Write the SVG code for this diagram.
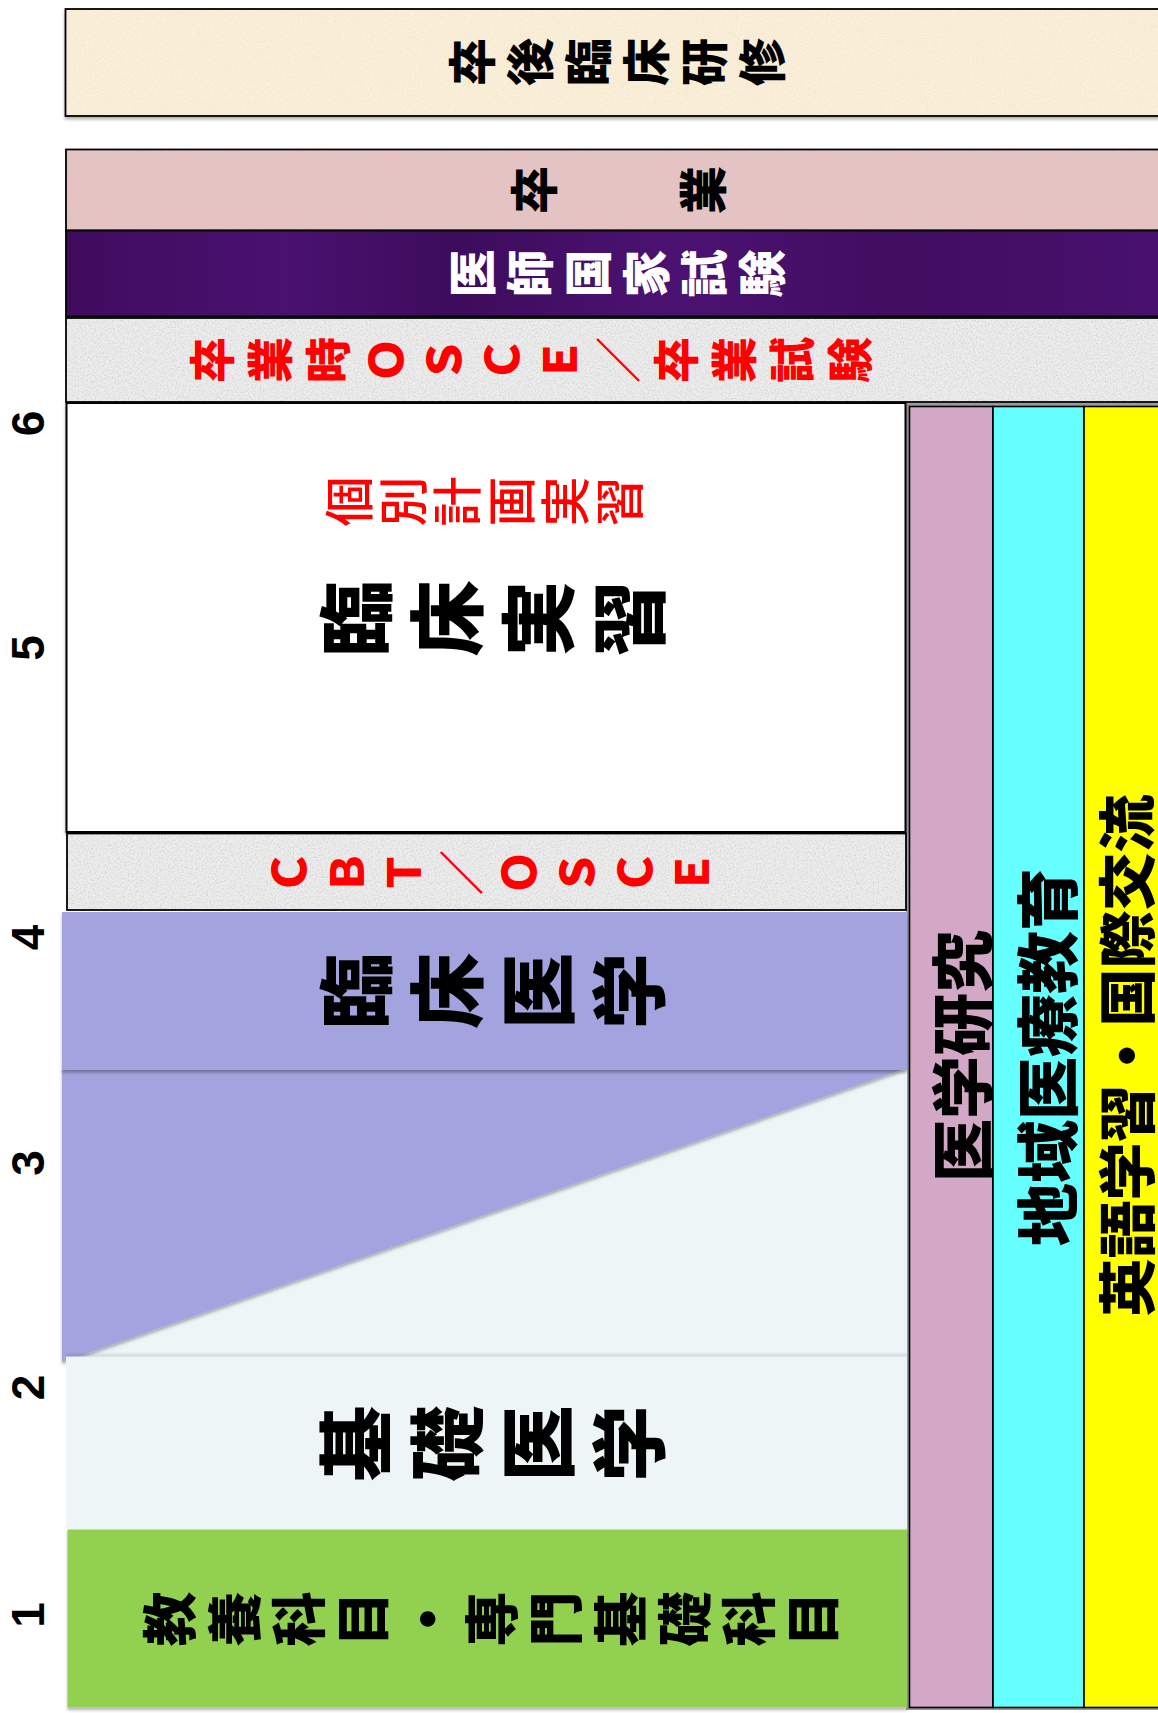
<svg xmlns="http://www.w3.org/2000/svg" width="1158" height="1713" viewBox="0 0 1158 1713">
<style>
.cj{font-family:"Noto Sans CJK JP","Noto Sans CJK SC",sans-serif;}
.v{writing-mode:vertical-rl;text-anchor:middle;}
.h{text-anchor:middle;dominant-baseline:central;}
.hv{font-weight:900;}
.num{font-family:"Liberation Sans",Arial,sans-serif;font-weight:bold;font-size:46px;text-anchor:middle;dominant-baseline:central;fill:#000;}
.bx{stroke:#000;stroke-width:1.8;}
.col{stroke:#000;stroke-width:1.6;}
.tex{fill:#000;filter:url(#grain);}
</style>
<defs>
<filter id="ds" x="-5%" y="-5%" width="110%" height="120%">
<feDropShadow dx="0" dy="2.5" stdDeviation="1.6" flood-color="#000" flood-opacity="0.3"/>
</filter>
<filter id="grain" x="0" y="0" width="100%" height="100%">
<feTurbulence type="fractalNoise" baseFrequency="0.6" numOctaves="3" seed="5" result="n"/>
<feColorMatrix in="n" type="matrix" values="0 0 0 0 0.55  0 0 0 0 0.55  0 0 0 0 0.55  0 0 0 1.6 -0.66" result="a"/>
<feComposite in="a" in2="SourceGraphic" operator="in"/>
</filter>
<linearGradient id="pur" x1="0" y1="0" x2="1" y2="0">
<stop offset="0" stop-color="#3f0c5e"/>
<stop offset="0.2" stop-color="#4a1170"/>
<stop offset="0.35" stop-color="#3d0c5c"/>
<stop offset="0.55" stop-color="#4c1272"/>
<stop offset="0.75" stop-color="#400d60"/>
<stop offset="1" stop-color="#4a1170"/>
</linearGradient>
<linearGradient id="sh" x1="0" y1="0" x2="0" y2="1">
<stop offset="0" stop-color="#000" stop-opacity="0"/>
<stop offset="1" stop-color="#000" stop-opacity="0.14"/>
</linearGradient>
</defs>

<g id="years">
<text class="num" transform="translate(27.5,423.5) rotate(-90)">6</text>
<text class="num" transform="translate(27.5,648) rotate(-90)">5</text>
<text class="num" transform="translate(27.5,937.5) rotate(-90)">4</text>
<text class="num" transform="translate(27.5,1163) rotate(-90)">3</text>
<text class="num" transform="translate(27.5,1387.5) rotate(-90)">2</text>
<text class="num" transform="translate(27.5,1615) rotate(-90)">1</text>
</g>

<g id="postgrad">
<rect x="65.5" y="9" width="1110" height="107" fill="#FBEFD7" class="bx" filter="url(#ds)"/>
<rect x="66.5" y="10" width="1108" height="105" class="tex" opacity="0.3"/>
<text class="cj v hv" font-size="48" letter-spacing="10" fill="#000" transform="translate(621.5,62) rotate(-90)">卒後臨床研修</text>
</g>

<g id="graduation">
<rect x="66" y="149.5" width="1110" height="81" fill="#E8C3C3" class="bx"/>
<rect x="67" y="150.5" width="1108" height="79" class="tex" opacity="0.5"/>
<text class="cj v hv" font-size="48" letter-spacing="8.3" fill="#000" transform="translate(622.5,190) rotate(-90)">卒　　業</text>
</g>

<g id="national-exam">
<rect x="66" y="230.5" width="1110" height="86" fill="url(#pur)" class="bx"/>
<text class="cj v hv" font-size="48" letter-spacing="10" fill="#fff" transform="translate(621.5,273.5) rotate(-90)">医師国家試験</text>
</g>

<g id="grad-osce">
<rect x="66" y="318" width="1110" height="84" fill="#EDEDED" class="bx"/>
<rect x="67" y="319" width="1108" height="82" class="tex" opacity="0.8"/>
<text class="cj v hv" font-size="46" letter-spacing="12" fill="#FF0000" transform="translate(536.5,360) rotate(-90)">卒業時ＯＳＣＥ／卒業試験</text>
</g>

<g id="columns">
<rect x="907.5" y="404.5" width="270" height="1304" fill="none" stroke="#9a9a9a" stroke-width="3"/>
<rect x="909.5" y="406.5" width="83.5" height="1301" fill="#D2A8C6" class="col"/>
<rect x="993" y="406.5" width="91" height="1301" fill="#66FFFF" class="col"/>
<rect x="1084" y="406.5" width="90" height="1301" fill="#FFFF00" class="col"/>
</g>

<g id="research">
<text class="cj h hv" font-size="63" fill="#000" transform="translate(958,1056) rotate(-90)">医学研究</text>
</g>
<g id="community">
<text class="cj h hv" font-size="63" fill="#000" transform="translate(1043,1057) rotate(-90)">地域医療教育</text>
</g>
<g id="english">
<text class="cj h hv" font-size="58" fill="#000" transform="translate(1124,1055.5) rotate(-90)">英語学習・国際交流</text>
</g>

<g id="clinical-practice">
<rect x="66.5" y="403" width="839" height="429" fill="#fff" stroke="#000" stroke-width="2" filter="url(#ds)"/>
<text class="cj v" font-size="50" font-weight="500" letter-spacing="4" fill="#FF0000" transform="translate(486,501.5) rotate(-90)">個別計画実習</text>
<text class="cj v hv" font-size="76" letter-spacing="15" fill="#000" transform="translate(500.5,618.5) rotate(-90)">臨床実習</text>
</g>

<g id="cbt-osce">
<rect x="67" y="833.5" width="839" height="76.5" fill="#EDEDED" class="bx"/>
<rect x="68" y="834.5" width="837" height="74.5" class="tex" opacity="0.8"/>
<text class="cj v hv" font-size="45" letter-spacing="12.6" fill="#FF0000" transform="translate(497,872.5) rotate(-90)">ＣＢＴ／ＯＳＣＥ</text>
</g>

<g id="basic-medicine">
<rect x="62" y="1070" width="845" height="290" fill="#EEF5F7"/>
</g>

<g id="clinical-medicine">
<polygon points="62,1068 907,1068 62,1362" fill="#A3A3DF" filter="url(#ds)"/>
<rect x="62" y="912" width="845" height="158" fill="#A3A3DF" filter="url(#ds)"/>
<text class="cj v hv" font-size="76" letter-spacing="15" fill="#000" transform="translate(500.5,991) rotate(-90)">臨床医学</text>
</g>

<g id="basic-medicine-label">
<rect x="66" y="1352" width="841" height="5" fill="url(#sh)"/>
<rect x="66" y="1356.5" width="841" height="173" fill="#EEF5F7"/>
<text class="cj v hv" font-size="76" letter-spacing="15" fill="#000" transform="translate(500.5,1443.5) rotate(-90)">基礎医学</text>
</g>

<g id="liberal-arts">
<rect x="67.5" y="1529.5" width="839.5" height="178" fill="#92D050" filter="url(#ds)"/>
<text class="cj v hv" font-size="55" letter-spacing="9.3" fill="#000" transform="translate(495.7,1619) rotate(-90)">教養科目・専門基礎科目</text>
</g>

<g id="connectors"></g>
</svg>
